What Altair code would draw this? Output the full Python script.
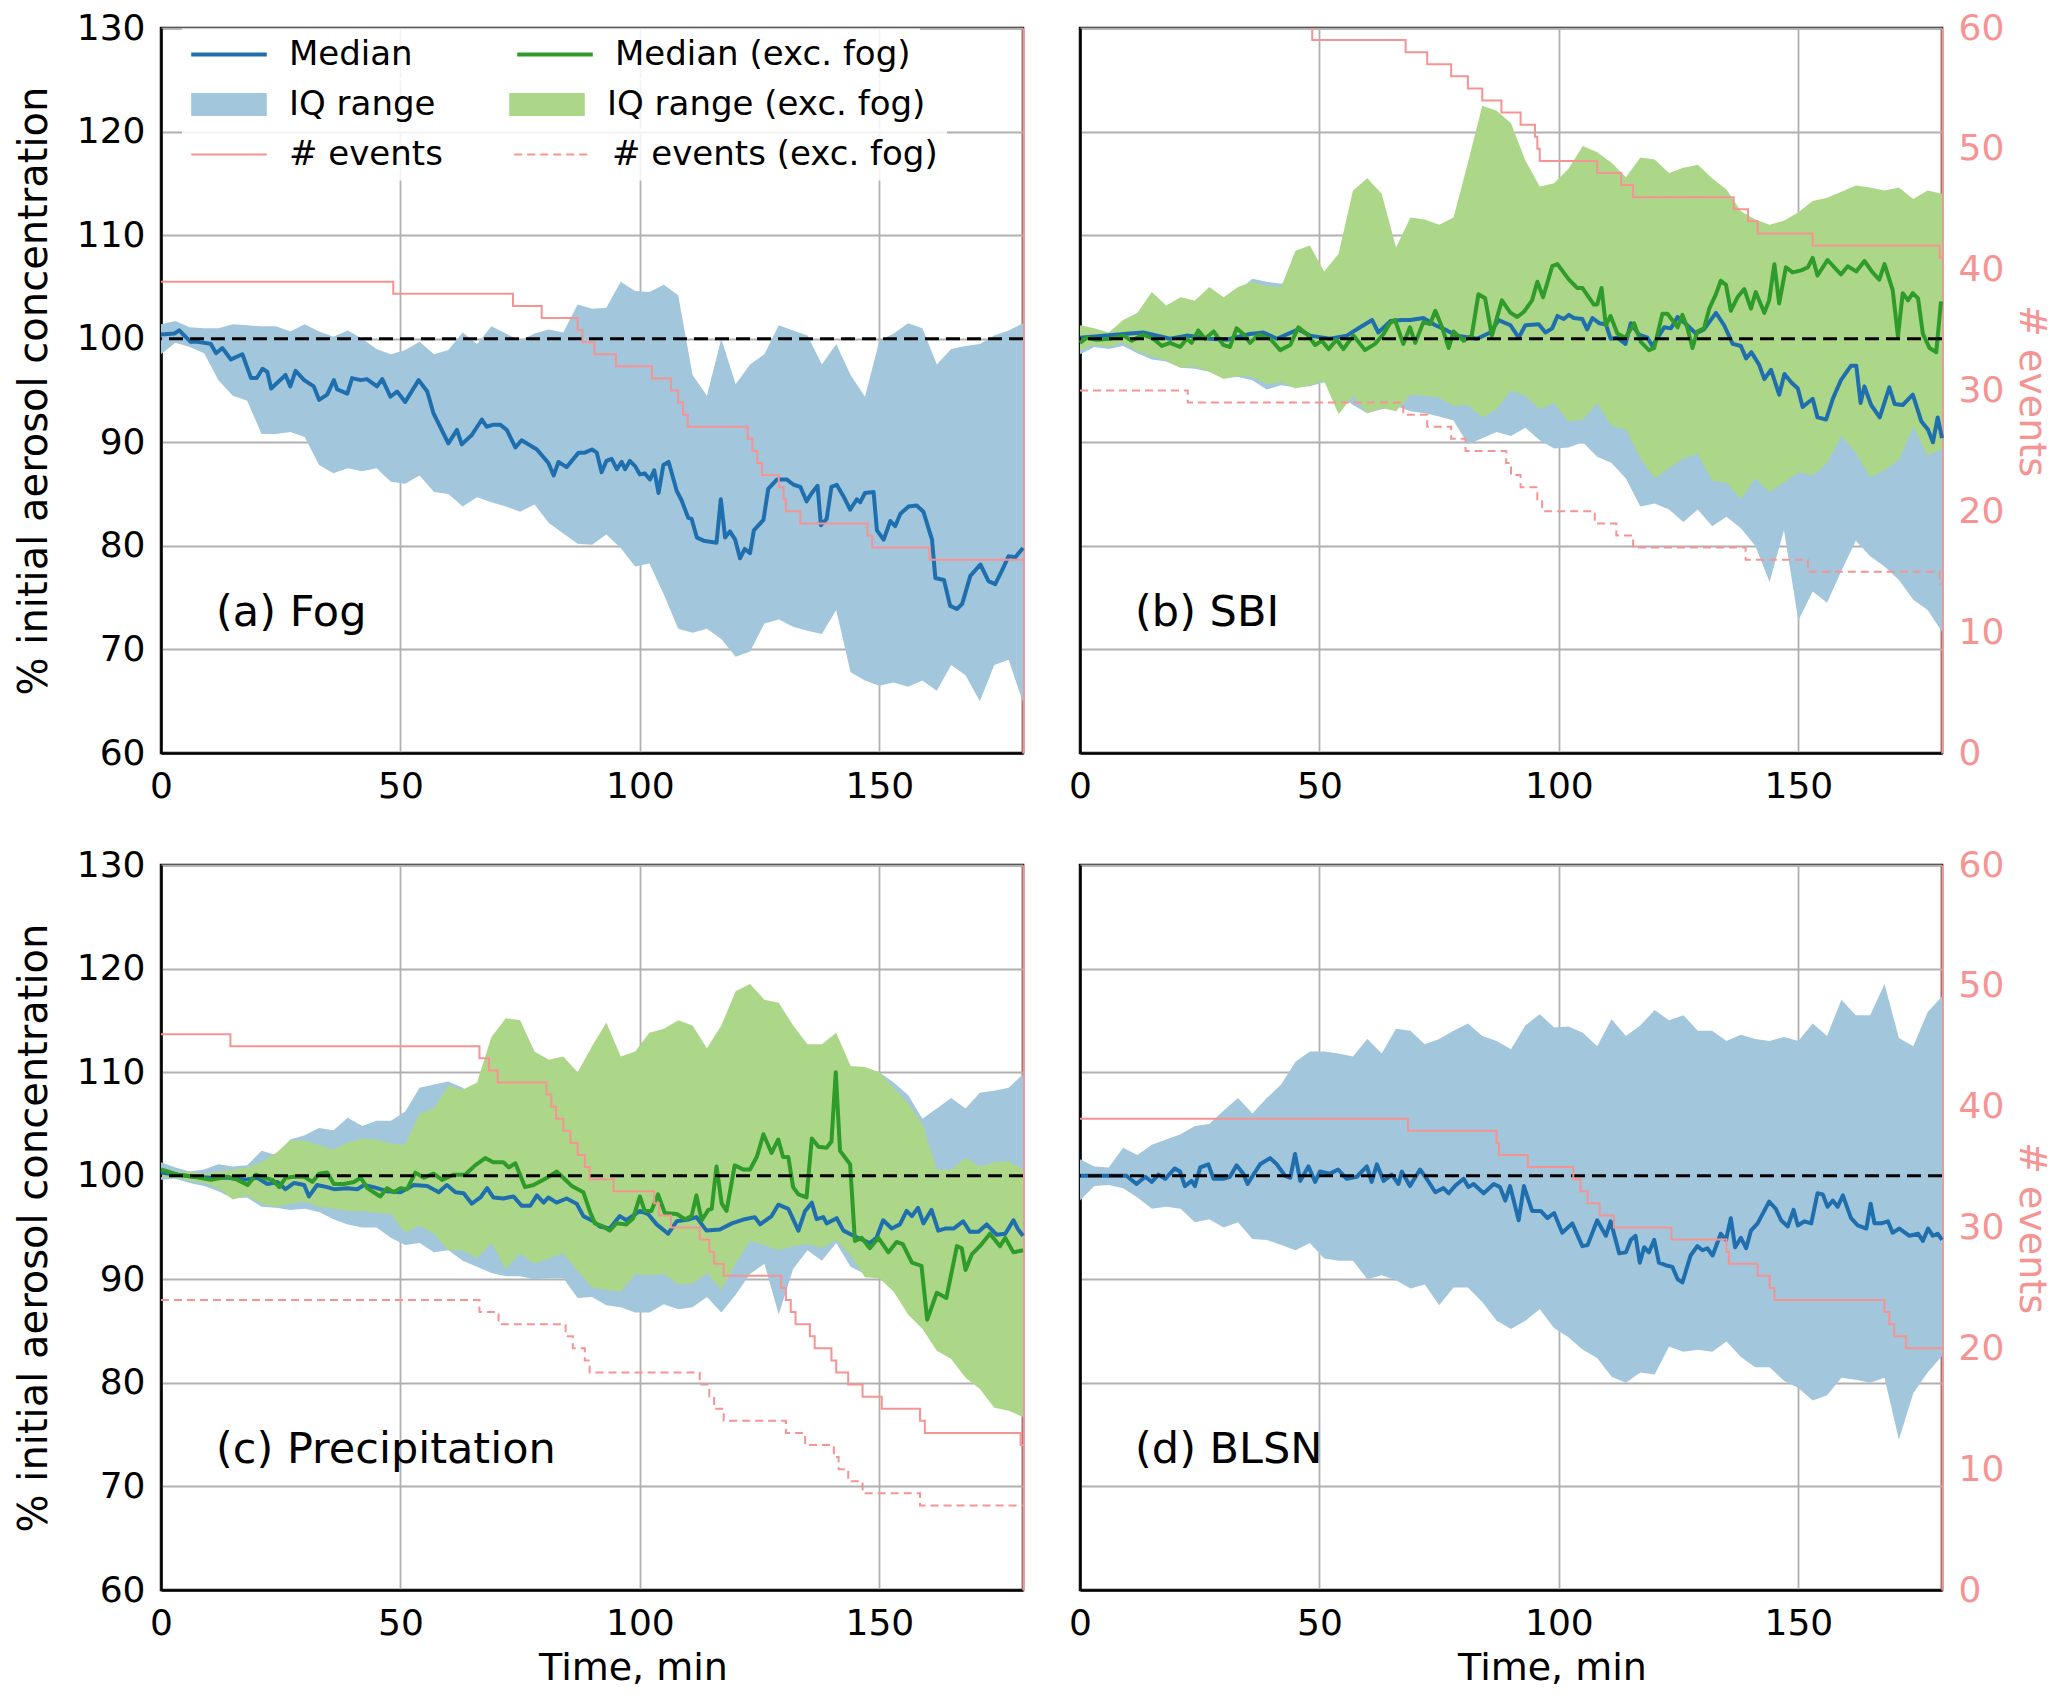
import altair as alt
import pandas as pd

FONT = "DejaVu Sans"
BLUE = "#1f6fae"
GREEN = "#2e9b2b"
BLUE_FILL = "#a2c6dc"
GREEN_FILL = "#add788"
PINK = "#f59493"
GRID = "#b0b0b0"

# time grid (min) on which the IQ-range bands were read
T3 = list(range(0, 181, 3))

# ---------------- (a) Fog ----------------
A_MED = [(0, 100.4), (2.8, 100.5), (3.8, 100.8), (6.2, 99.7), (7.6, 99.7), (10.4, 99.5), (11.5, 98.6),
         (12.8, 99.1), (14.6, 98.0), (17, 98.5), (18.8, 96.2), (20, 96.2), (21.2, 97.1), (22.2, 96.8),
         (23, 95.2), (26, 96.5), (27, 95.4), (28.1, 96.9), (29.9, 96.0), (31.9, 95.4), (33, 94.1),
         (34.7, 94.6), (36.1, 96.0), (36.8, 95.1), (38.9, 94.7), (39.9, 96.2), (41.7, 96.0), (43, 96.1),
         (45.1, 95.4), (46.2, 96.1), (47.9, 94.4), (49.3, 94.9), (51, 93.9), (53.8, 96.0), (55.6, 94.9),
         (56.9, 92.8), (58.3, 91.5), (60, 89.9), (61.8, 91.2), (62.8, 89.8), (64.9, 90.7), (67, 92.2),
         (68, 91.5), (69.4, 91.7), (70.8, 91.7), (72.2, 91.2), (74, 89.5), (75.3, 90.2), (78.5, 89.3),
         (80.9, 88.0), (82, 86.8), (83, 88.1), (84.7, 87.6), (87.2, 89.0), (88.5, 89.0), (90, 89.3),
         (91, 89.0), (92, 87.1), (93, 88.2), (94.1, 88.4), (95.2, 87.4), (96.2, 88.1), (96.9, 87.4),
         (97.9, 88.2), (99, 87.7), (100, 86.9), (101, 87.0), (102.1, 86.4), (103, 87.3), (103.9, 85.1),
         (104.9, 87.8), (106, 88.1), (107.7, 85.3), (108.7, 84.4), (110.1, 82.7), (110.8, 82.6),
         (111.9, 80.8), (113.3, 80.5), (116, 80.3), (116.9, 84.5), (117.8, 80.8), (118.8, 81.4),
         (119.9, 80.6), (120.9, 78.8), (121.9, 79.7), (123, 79.3), (123.8, 81.5), (125.8, 82.5),
         (126.8, 85.5), (128.6, 86.4), (130.7, 86.4), (132.1, 85.9), (133.5, 85.7), (134.8, 84.3),
         (135.9, 85.1), (137.1, 85.8), (137.8, 82.0), (139, 82.6), (140, 85.7), (141.1, 85.9),
         (142.5, 84.8), (143.9, 83.5), (145.3, 84.5), (146, 84.2), (147, 85.1), (148.8, 85.2),
         (149.5, 81.5), (150.9, 80.6), (152.3, 82.4), (153.3, 81.9), (154.4, 83.1), (156.1, 83.8),
         (157.8, 83.9), (159.2, 83.3), (161, 80.6), (161.7, 76.9), (163.5, 76.7), (164.8, 74.2),
         (166.2, 73.9), (167.3, 74.4), (169, 77.1), (171.1, 78.2), (172.8, 76.6), (174.2, 76.3),
         (175.6, 77.6), (177, 79.0), (178.4, 78.9), (180, 79.8)]
A_HI = [101.4, 101.7, 101.1, 101.0, 101.0, 101.4, 101.3, 101.2, 101.2, 100.7,
        101.4, 100.7, 100.2, 100.8, 100.0, 99.0, 98.5, 98.9, 99.7, 98.5,
        98.9, 100.6, 99.5, 101.2, 100.5, 99.8, 100.5, 100.9, 100.6, 103.3,
        102.9, 103.0, 105.5, 104.6, 104.5, 105.2, 104.2, 96.5, 94.5, 100.0,
        95.6, 97.5, 98.5, 101.3, 100.8, 100.3, 97.5, 99.5, 96.5, 94.4,
        99.8, 100.5, 101.5, 101.0, 97.5, 99.0, 99.3, 99.5, 100.3, 100.8,
        101.5]
A_LO = [98.5, 99.6, 99.2, 98.6, 96.0, 94.5, 94.0, 90.8, 90.8, 91.0,
        90.5, 87.8, 87.0, 87.5, 87.2, 87.5, 86.2, 86.0, 86.8, 85.2,
        85.0, 83.8, 84.7, 84.2, 83.8, 83.3, 84.0, 82.2, 81.2, 80.2,
        80.1, 81.1, 79.8, 78.0, 78.3, 75.3, 72.0, 71.6, 72.0, 71.0,
        69.3, 69.8, 72.5, 72.9, 72.2, 71.8, 71.5, 73.8, 67.8, 67.0,
        66.5, 66.8, 66.4, 67.0, 66.0, 68.5, 67.5, 65.0, 68.5, 69.0,
        64.9]
A_EV = [(0, 39), (48.5, 38), (73.5, 37), (79.5, 36), (87, 35), (88, 34), (90.5, 33), (95, 32),
        (102.5, 31), (106.5, 30), (108, 29), (109, 28), (110, 27), (122.5, 26), (123.5, 25),
        (124.5, 24), (125.5, 23), (129, 22), (130, 21), (130.5, 20), (133.5, 19), (147.5, 18),
        (148.5, 17), (160.5, 16), (180, 16)]

# ---------------- (b) SBI ----------------
B_MED = [(0, 100.1), (10.4, 100.5), (13.2, 100.6), (18.8, 100.0), (22.3, 100.3), (27.2, 100.0),
         (30.6, 99.9), (35.5, 100.45), (38.3, 100.6), (41.1, 100.0), (45.6, 100.9), (48, 100.3),
         (52.2, 100.0), (55.7, 100.3), (58.5, 101.1), (61, 101.8), (62.3, 100.6), (64.8, 101.7),
         (67.2, 101.8), (69, 101.8), (71.7, 102.0), (74.2, 101.3), (76.6, 100.8), (78.7, 100.3),
         (82.9, 100.0), (85.7, 100.6), (87.4, 101.8), (89.9, 101.3), (91.6, 100.1), (93, 101.3),
         (95.8, 101.4), (97.2, 100.6), (98.6, 101.0), (99.7, 102.2), (101, 101.9), (102.1, 102.3),
         (103.1, 102.0), (104.9, 101.9), (105.9, 100.9), (107, 102.0), (108.4, 101.5), (109.8, 101.4),
         (110.8, 100.0), (112.2, 100.1), (113.9, 99.5), (115, 101.5), (116.7, 100.4), (118.5, 100.1),
         (119.5, 99.3), (122, 101.1), (123.4, 101.0), (124.8, 102.1), (126.8, 101.3), (128.6, 100.5),
         (130.3, 100.9), (132.8, 102.5), (134.5, 101.3), (136.3, 99.5), (138, 99.3), (139.1, 98.1),
         (140.2, 98.7), (141.8, 97.5), (142.9, 96.1), (144.3, 97.0), (146, 94.6), (147.1, 96.6),
         (148.5, 95.8), (149.9, 95.2), (150.9, 93.4), (153, 94.2), (154, 92.4), (155.8, 92.2),
         (157.2, 94.2), (158.9, 96.0), (161, 97.4), (162.1, 97.4), (163, 93.8), (163.8, 95.4),
         (165.2, 93.6), (167, 92.4), (169, 95.3), (170.1, 93.7), (171.8, 93.6), (173.9, 94.6),
         (175.7, 92.0), (177.1, 91.2), (178.1, 90.0), (179.1, 92.4), (180, 90.4)]
B_MED_FOG = [(0, 99.6), (1.4, 100.1), (3.5, 99.9), (6.3, 100.0), (9.1, 100.3), (10.8, 99.8), (13.2, 100.4),
             (15.3, 100.0), (17.1, 99.3), (18.8, 99.6), (20.9, 99.2), (22.3, 100.0), (23.3, 99.6),
             (24.7, 100.8), (26.1, 100.0), (27.9, 100.7), (29.9, 99.4), (31.3, 99.2), (32.7, 101.0),
             (34.1, 100.45), (35.5, 99.6), (37.3, 100.4), (39.7, 100.0), (41.8, 98.9), (43.9, 99.4),
             (45.6, 101.1), (47.4, 100.45), (49.1, 99.4), (50.5, 99.8), (51.9, 99.0), (53.6, 99.9),
             (55, 99.0), (57.1, 100.3), (59.5, 98.9), (61.6, 99.5), (63.4, 100.45), (64.7, 101.5),
             (65.8, 101.8), (67.5, 99.5), (68.9, 101.1), (70, 99.6), (71.7, 101.6), (73.1, 101.4),
             (74.2, 102.7), (75.6, 101.1), (77, 99.1), (78, 100.7), (80.1, 99.8), (81.8, 100.3),
             (83.2, 104.3), (84.6, 103.9), (86, 100.3), (88.1, 103.7), (89.9, 102.5), (91.3, 102.1),
             (92.7, 102.6), (94.4, 103.7), (95.5, 105.5), (96.7, 104.0), (98.6, 107.0), (99.7, 107.2),
             (102.1, 105.7), (103.8, 104.9), (104.9, 104.9), (107.3, 103.3), (108, 103.3), (108.9, 104.9),
             (109.8, 101.3), (110.8, 102.2), (112.2, 100.5), (113.9, 100.1), (115.7, 101.5), (117.1, 99.7),
             (118.8, 98.9), (119.9, 99.1), (121.6, 102.4), (122.7, 102.4), (124.8, 101.1), (125.8, 102.3),
             (126.8, 101.1), (127.9, 99.1), (128.9, 100.7), (130.3, 101.0), (131.4, 102.9), (132.8, 104.3),
             (133.8, 105.6), (134.9, 105.2), (135.9, 102.7), (137.3, 104.0), (138.7, 104.8), (140.1, 102.9),
             (141.1, 104.5), (142.9, 102.5), (143.9, 103.7), (145, 107.2), (146, 103.4), (147.4, 106.9),
             (148.8, 106.4), (150.6, 106.6), (152, 106.9), (153, 107.8), (154, 106.1), (156.1, 107.6),
             (157.5, 106.9), (158.9, 106.2), (160.3, 107.0), (162.1, 106.5), (163.8, 107.5), (165.5, 106.4),
             (166.9, 105.7), (168, 107.2), (169.7, 104.7), (170.8, 100.2), (171.8, 104.4), (172.9, 103.7),
             (173.9, 104.4), (175, 103.9), (176, 100.5), (177.4, 99.1), (178.8, 98.7), (179.8, 103.6)]
B_HI = [101.0, 100.8, 100.5, 101.5, 102.0, 103.0, 103.0, 103.5, 103.5, 104.4,
        103.8, 104.6, 105.8, 105.5, 105.3, 106.0, 107.0, 105.5, 107.0, 112.0,
        113.0, 112.0, 107.5, 110.0, 110.0, 109.5, 110.0, 114.0, 118.0, 118.0,
        117.0, 115.0, 113.0, 113.0, 114.0, 116.0, 116.0, 115.0, 114.0, 115.0,
        115.0, 114.0, 114.5, 114.5, 113.5, 112.5, 110.5, 110.0, 109.5, 110.0,
        110.5, 111.5, 112.0, 112.5, 113.0, 113.0, 112.5, 113.0, 112.0, 112.5,
        112.5]
B_LO = [98.5, 99.2, 99.0, 99.3, 98.6, 98.0, 97.8, 97.2, 97.1, 96.8,
        96.2, 96.3, 96.0, 95.1, 95.5, 95.3, 95.4, 95.8, 94.6, 93.6,
        92.8, 93.2, 93.5, 93.0, 92.8, 92.5, 92.1, 89.8, 90.4, 91.0,
        90.6, 91.4, 90.2, 89.4, 89.5, 90.0, 88.6, 88.0, 86.5, 83.8,
        84.1, 83.5, 82.3, 83.5, 81.9, 82.8, 81.7, 80.0, 76.5, 81.5,
        72.8, 75.6, 74.5, 77.6, 80.5, 79.0, 78.0, 76.7, 74.8, 73.8,
        71.7]
B_HI_FOG = [101.3, 101.0, 100.6, 101.8, 102.5, 104.5, 103.2, 104.0, 103.7, 105.0,
            104.0, 105.0, 105.5, 105.1, 105.0, 108.5, 109.0, 106.5, 108.2, 114.3,
            115.5, 114.0, 108.8, 111.7, 111.5, 111.0, 111.7, 117.0, 122.5, 122.0,
            120.8, 117.2, 114.7, 115.0, 116.4, 118.6, 118.0, 117.0, 115.6, 117.5,
            117.3, 116.0, 116.5, 116.8, 115.5, 114.4, 112.3, 111.5, 111.0, 111.4,
            112.2, 113.3, 113.6, 114.2, 114.8, 114.6, 114.3, 114.6, 113.5, 114.3,
            114.0]
B_LO_FOG = [98.9, 99.4, 99.2, 99.6, 98.8, 98.3, 97.9, 97.2, 97.3, 96.8,
            96.1, 96.4, 96.3, 95.6, 95.8, 95.2, 95.5, 95.9, 92.7, 94.5,
            92.8, 93.3, 93.0, 94.6, 94.5, 94.3, 93.5, 93.6, 92.4, 93.2,
            95.0, 94.5, 93.2, 93.8, 92.0, 92.2, 93.8, 91.6, 91.2, 88.5,
            86.5, 87.5, 88.4, 88.9, 86.3, 86.1, 84.5, 86.5, 85.2, 86.1,
            87.1, 86.8, 88.0, 90.6, 89.0, 86.6, 87.3, 88.3, 91.5, 88.7,
            89.4]
B_EV = [(0, 63), (48.5, 59), (68, 58), (72.5, 57), (77.5, 56), (81, 55), (84, 54), (88, 53), (92, 52),
        (95, 51), (95.5, 50), (96, 49), (108, 48), (113, 47), (115.5, 46), (136.5, 45), (139.5, 44),
        (141.5, 43), (153, 42), (179.5, 41), (180, 41)]
B_EV_FOG = [(0, 30), (22.5, 29), (67.5, 28), (72.5, 27), (77.5, 26), (80.5, 25), (89, 24), (90, 23),
            (92, 22), (95.5, 21), (96.5, 20), (107.5, 19), (112, 18), (115.5, 17), (139, 16), (152, 15),
            (179.5, 14), (180, 14)]

# ---------------- (c) Precipitation ----------------
C_MED = [(0, 100.3), (3.5, 100.1), (6.9, 99.9), (10.4, 99.8), (13.9, 99.8), (17.4, 99.6), (20.1, 99.8),
         (22.2, 99.2), (24.3, 99.4), (26, 98.7), (27.8, 99.3), (29.9, 99.1), (30.9, 98.0), (32.6, 99.1),
         (34.7, 98.9), (36.1, 98.7), (38.9, 98.8), (41, 98.7), (42.4, 99.1), (44.4, 98.9), (47.2, 98.5),
         (50, 98.4), (52.8, 99.1), (55.6, 99.0), (58, 98.4), (59.7, 99.1), (61.5, 98.4), (63.2, 98.3),
         (64.9, 97.3), (66.7, 97.9), (68.1, 98.8), (69.4, 97.9), (71.5, 97.8), (73.6, 98.0), (75.3, 97.1),
         (77.1, 97.1), (78.5, 98.1), (79.9, 97.4), (80.9, 97.9), (82.6, 97.4), (84.7, 97.8), (86.8, 97.3),
         (88.2, 96.1), (90.3, 95.6), (91.6, 95.1), (93.7, 94.9), (95.8, 96.1), (97.2, 95.7), (100, 96.6),
         (101.7, 96.3), (103.5, 95.3), (105.9, 94.4), (107.7, 95.6), (110.4, 95.8), (111.8, 96.0),
         (113.9, 94.7), (116.7, 94.8), (119.2, 95.4), (121.9, 95.8), (124, 96.0), (125.1, 95.3),
         (127.5, 96.1), (128.9, 97.2), (131, 96.8), (133.1, 94.7), (134.5, 96.6), (135.9, 97.4),
         (136.9, 95.8), (138.3, 96.0), (139, 95.4), (141.1, 95.9), (142.5, 94.7), (144.6, 94.2),
         (146, 93.9), (148, 93.5), (149.4, 94.0), (150.8, 95.7), (152.6, 94.9), (154.3, 95.3),
         (155.7, 96.6), (156.8, 96.1), (158.1, 96.9), (159.2, 95.4), (160.9, 96.7), (162.3, 94.7),
         (163.7, 94.9), (165.5, 94.9), (167.5, 95.6), (168.9, 94.6), (170.7, 94.6), (172.4, 95.3),
         (174.5, 94.3), (176.3, 94.4), (178, 95.7), (179, 94.8), (180, 94.2)]
C_MED_FOG = [(0, 100.6), (3.5, 100.1), (6.9, 99.9), (10.4, 99.6), (13.9, 99.9), (16, 99.6), (18.1, 99.1),
             (19.8, 100.1), (21.5, 99.8), (23.3, 99.6), (24.7, 98.9), (26, 99.8), (27.8, 99.9), (29.9, 99.9),
             (31.6, 99.4), (33, 100.2), (34.7, 100.3), (36.1, 99.2), (38.2, 99.2), (40.3, 99.4), (41.7, 99.8),
             (43.1, 98.8), (44.4, 98.4), (45.8, 98.0), (47.2, 98.8), (48.6, 98.4), (50, 98.8), (51.4, 98.7),
             (53.1, 100.3), (54.9, 99.8), (56.9, 100.2), (58.7, 99.6), (61.1, 100.1), (63.5, 100.1),
             (65.6, 101.0), (67.7, 101.7), (69.4, 101.3), (71.5, 101.3), (72.6, 100.8), (74, 101.2),
             (76, 98.9), (77.8, 99.1), (80.6, 99.8), (82.6, 100.4), (84, 99.8), (85.8, 99.0), (88.2, 98.4),
             (89.6, 96.5), (90.6, 95.4), (92.3, 95.1), (93.7, 94.7), (95.1, 95.4), (97.2, 95.3), (98.6, 95.9),
             (100, 98.0), (101, 96.6), (102.4, 96.6), (103.8, 98.2), (105.2, 96.4), (107.7, 96.3),
             (109.4, 95.8), (110.8, 96.1), (111.8, 98.1), (112.9, 95.7), (114.3, 96.7), (115, 96.8),
             (116, 100.9), (117.1, 97.3), (118.1, 96.6), (119.8, 101.0), (121.6, 100.6), (123, 100.6),
             (124.4, 101.8), (125.8, 104.0), (127.5, 102.2), (128.9, 103.5), (129.9, 101.8), (131, 101.8),
             (132, 98.9), (133.1, 98.2), (134.8, 97.9), (135.9, 103.6), (137.3, 102.8), (139, 102.7),
             (140, 103.3), (140.9, 110.0), (141.8, 102.4), (143.9, 101.1), (144.9, 93.7), (146.3, 94.0),
             (148, 93.0), (149.8, 94.0), (151.9, 92.6), (153.6, 93.6), (154.9, 93.4), (156.8, 91.6),
             (158.8, 91.3), (160, 86.1), (162, 88.7), (164, 88.2), (166.2, 93.2), (167.2, 93.0), (168, 90.9),
             (169.3, 92.4), (171, 93.2), (173.1, 94.4), (175.2, 93.2), (176.3, 94.0), (178, 92.6), (180, 92.8)]
C_HI = [101.3, 100.8, 100.4, 100.6, 101.1, 100.9, 101.0, 102.4, 102.0, 103.5,
        103.9, 104.6, 104.4, 105.6, 104.8, 105.3, 105.3, 106.2, 108.5, 108.8,
        109.1, 108.5, 107.5, 110.0, 111.0, 111.0, 109.5, 109.0, 109.5, 108.0,
        109.5, 111.0, 109.0, 109.5, 110.5, 111.0, 111.5, 111.0, 110.0, 111.0,
        113.0, 113.0, 112.5, 112.0, 111.0, 110.0, 110.0, 110.5, 109.0, 109.5,
        110.0, 109.0, 107.8, 105.5, 106.5, 107.5, 106.5, 108.0, 108.2, 108.5,
        109.8]
C_LO = [99.6, 99.7, 99.3, 99.0, 98.5, 97.8, 97.9, 97.0, 96.9, 96.7,
        96.8, 96.5, 95.8, 95.3, 95.0, 95.0, 94.0, 93.3, 93.5, 92.6,
        92.8, 91.8, 91.2, 90.6, 90.3, 90.3, 90.0, 90.1, 90.1, 88.2,
        88.3, 87.5, 87.3, 86.8, 86.8, 87.6, 87.1, 87.3, 88.3, 86.8,
        88.5, 90.5, 91.5, 86.6, 91.0, 92.8, 91.8, 93.5, 91.2, 90.5,
        90.5, 90.0, 89.5, 89.0, 89.0, 89.5, 89.0, 89.0, 88.5, 88.5,
        88.0]
C_HI_FOG = [100.8, 100.4, 100.4, 100.2, 100.4, 100.6, 100.8, 101.3, 102.2, 103.4,
            103.4, 103.0, 102.5, 103.2, 103.6, 103.5, 103.1, 103.0, 106.0, 106.5,
            108.7, 108.3, 109.0, 113.4, 115.2, 115.0, 112.0, 111.2, 111.5, 110.0,
            112.5, 114.8, 111.5, 112.0, 113.8, 114.2, 115.0, 114.5, 112.3, 114.5,
            117.8, 118.5, 117.0, 116.7, 114.5, 112.7, 112.7, 113.8, 110.6, 110.5,
            110.0, 108.5, 107.0, 105.0, 100.6, 100.6, 101.7, 100.9, 101.3, 101.4,
            100.6]
C_LO_FOG = [99.8, 99.8, 99.5, 99.3, 98.8, 97.7, 98.1, 97.3, 97.0, 97.3,
            97.5, 97.0, 96.8, 96.6, 96.6, 96.4, 96.3, 94.5, 95.2, 94.4,
            92.8, 92.8, 92.0, 93.5, 91.0, 92.5, 91.5, 92.0, 92.5, 90.8,
            89.2, 89.0, 88.8, 90.5, 90.4, 90.5, 89.5, 89.6, 90.6, 89.0,
            91.5, 93.7, 93.3, 92.8, 93.2, 93.4, 93.0, 93.8, 92.3, 90.2,
            90.1, 88.8, 86.6, 85.2, 83.1, 82.3, 80.5, 79.4, 77.6, 77.3,
            76.7]
C_EV = [(0, 46), (14.5, 45), (66.5, 44), (68.5, 43), (70.3, 42), (80.5, 41), (81.5, 40), (82.5, 39),
        (84, 38), (85.5, 37), (87, 36), (88.5, 35), (89.5, 34), (94.5, 33), (103, 32), (104, 31),
        (106.5, 30), (112.5, 29), (114.5, 28), (115.5, 27), (117.5, 26), (129.5, 25), (130.5, 24),
        (131.5, 23), (132.5, 22), (135.5, 21), (136.5, 20), (140, 19), (141, 18), (143.5, 17),
        (146.5, 16), (150.5, 15), (158.5, 14), (159.5, 13), (179.5, 12), (180, 12)]
C_EV_FOG = [(0, 24), (66.5, 23), (70.5, 22), (84.5, 21), (86, 20), (88.5, 19), (89.5, 18), (112.5, 17),
            (114.5, 16), (115.5, 15), (117.5, 14), (130.5, 13), (134.5, 12), (140.5, 11), (141.5, 10),
            (143.5, 9), (146.5, 8), (158.5, 7), (180, 7)]

# ---------------- (d) BLSN ----------------
D_MED = [(0, 100.0), (6.3, 100.0), (9.7, 100.0), (11.8, 99.2), (13.6, 99.9), (15, 99.4), (16.4, 100.1),
         (17.8, 99.7), (19.8, 100.7), (20.9, 100.4), (21.9, 99.0), (23.3, 99.5), (24, 99.0), (25.1, 100.8),
         (26.8, 101.1), (27.9, 99.7), (29.9, 99.7), (31.3, 99.9), (32.7, 101.0), (34.1, 100.2), (35, 99.2),
         (36.2, 100.1), (37.6, 101.1), (39.7, 101.7), (41.1, 101.1), (42.8, 100.0), (43.9, 99.8),
         (44.9, 102.1), (46, 99.5), (47.7, 100.9), (49.1, 99.4), (50.1, 100.4), (52.2, 100.2), (53.9, 100.6),
         (55.7, 99.7), (57.8, 99.9), (59.9, 100.9), (60.9, 99.4), (62, 101.1), (63.4, 99.5), (65.1, 100.1),
         (66.5, 99.2), (67.2, 100.4), (68.9, 99.0), (71, 100.6), (72.4, 99.7), (74.2, 98.4), (75.9, 98.8),
         (77, 98.3), (78.3, 99.0), (80.1, 99.7), (81.1, 98.9), (82.2, 99.2), (84.3, 98.3), (86.4, 99.2),
         (87.7, 98.9), (88.8, 97.6), (89.8, 99.0), (91.6, 95.7), (92.7, 99.0), (94.4, 96.6), (96.2, 96.6),
         (97.6, 95.9), (99, 96.4), (100.7, 94.5), (102.8, 95.4), (104.9, 93.2), (106, 93.3), (108, 95.7),
         (109.8, 94.2), (110.8, 95.6), (112.6, 92.5), (114, 92.6), (115, 93.8), (116, 94.2), (116.9, 91.6),
         (117.8, 93.1), (118.8, 92.6), (119.9, 93.8), (120.9, 91.6), (122.7, 91.3), (123.7, 91.2),
         (124.8, 90.0), (125.8, 89.7), (127.5, 92.3), (128.9, 93.2), (130, 92.8), (131, 93.0), (132.1, 92.3),
         (133.8, 94.4), (134.9, 93.8), (135.9, 95.9), (136.8, 93.1), (138, 94.0), (139.1, 93.0),
         (140.1, 94.7), (141.5, 95.4), (143.9, 97.5), (145.3, 96.8), (146.4, 95.7), (147.8, 95.1),
         (149, 96.7), (149.9, 95.2), (151.3, 95.6), (152.7, 95.4), (154, 98.3), (155.1, 98.2), (156.1, 97.0),
         (157.2, 97.6), (158.2, 97.0), (159.3, 98.1), (161, 95.9), (162.4, 95.2), (164.2, 94.9),
         (165.1, 97.3), (165.9, 95.4), (167.3, 95.4), (168.7, 95.6), (169.7, 94.5), (171.1, 94.9),
         (173.2, 94.2), (175, 94.4), (176, 93.7), (177.1, 94.9), (178.1, 94.2), (179.1, 94.4), (180, 93.8)]
D_HI = [101.6, 100.9, 100.8, 102.7, 102.0, 103.0, 103.5, 104.0, 104.8, 105.0,
        106.3, 107.5, 106.0, 107.5, 108.8, 111.0, 112.0, 112.0, 111.8, 111.5,
        113.2, 111.8, 114.2, 114.0, 112.7, 113.2, 114.0, 114.7, 113.5, 113.0,
        112.2, 114.5, 115.6, 114.3, 114.4, 113.8, 112.5, 115.1, 113.5, 114.5,
        116.0, 115.0, 115.5, 114.0, 114.0, 113.0, 113.6, 113.2, 113.0, 113.4,
        113.0, 114.7, 113.5, 117.0, 115.5, 115.5, 118.5, 113.3, 112.5, 115.8,
        117.3]
D_LO = [97.6, 99.0, 99.1, 98.8, 97.9, 96.8, 97.0, 96.8, 95.5, 95.8,
        95.0, 95.5, 93.9, 93.8, 93.3, 92.8, 93.5, 92.0, 91.8, 91.8,
        90.0, 90.4, 89.9, 89.1, 89.5, 87.5, 89.2, 89.2, 87.8, 86.0,
        85.2, 86.0, 87.1, 85.3, 84.4, 83.2, 82.4, 80.6, 80.0, 81.0,
        80.8, 83.5, 83.0, 83.2, 83.0, 84.0, 82.5, 81.5, 81.5, 80.2,
        79.5, 78.3, 78.8, 80.5, 80.3, 80.0, 80.5, 74.5, 79.0, 81.0,
        82.6]
D_EV = [(0, 39), (68.5, 38), (87, 37), (87.5, 36), (93.5, 35), (103, 34), (104.5, 33), (106, 32),
        (108.5, 31), (111.5, 30), (123.5, 29), (135, 28), (135.5, 27), (141.5, 26), (144, 25), (145, 24),
        (168, 23), (169, 22), (170, 21), (172.5, 20), (180, 20)]

MEDIANS = ["Median", "Median (exc. fog)"]
BANDS = ["IQ range", "IQ range (exc. fog)"]
EVENTS = ["# events", "# events (exc. fog)"]

LABEL_X, LABEL_Y = 11.5, 73.5
W, H = 862, 725

LINE_PATH = "M-2.7,0L2.7,0"
RECT_PATH = "M-2.7,-0.82L2.7,-0.82L2.7,0.82L-2.7,0.82Z"


def legend(top, col_pad, **kw):
    return alt.Legend(
        orient="none", legendX=21, legendY=top, columns=2, title=None,
        padding=9, fillColor="rgba(255,255,255,0.85)", symbolSize=784, symbolOffset=21,
        labelOffset=43, columnPadding=col_pad, labelFont=FONT, labelLimit=600,
        labelFontSize=34, labelColor="black", **kw,
    )


MED_LEGEND = legend(0.5, 96, symbolType=LINE_PATH, symbolStrokeWidth=4)
BAND_LEGEND = legend(50.5, 73, symbolType=RECT_PATH, symbolStrokeWidth=0)
EV_LEGEND = legend(100.5, 67, symbolType=LINE_PATH, symbolStrokeWidth=2, symbolStrokeColor=PINK)


def panel(label, med, lo, hi, ev, med_fog=None, lo_fog=None, hi_fog=None, ev_fog=None,
          left_labels=True, x_title=False):
    x = alt.X(
        "x:Q",
        scale=alt.Scale(domain=[0, 180], nice=False, zero=False),
        axis=alt.Axis(values=[0, 50, 100, 150], grid=True, ticks=False, labelFlush=False,
                      labelPadding=16, titlePadding=8, domainColor="black", domainWidth=2.5,
                      titleX=W / 2 + 41, titleAlign="center",
                      title="Time, min" if x_title else None),
    )
    ysc = alt.Scale(domain=[60, 130], nice=False, zero=False)
    yax = alt.Axis(values=list(range(60, 131, 10)), grid=True, ticks=False, labels=left_labels,
                   labelFlush=False, labelPadding=16, titlePadding=22, titleFontSize=40,
                   domainColor="black", domainWidth=2.5,
                   title="% initial aerosol concentration" if left_labels else None)
    esc = alt.Scale(domain=[0, 60], nice=False, zero=False)
    eax = alt.Axis(values=list(range(0, 61, 10)), grid=False, ticks=False, orient="right",
                   labels=not left_labels, labelFlush=False, labelColor=PINK, labelPadding=16,
                   domainColor=PINK, domainWidth=2.5, titleColor=PINK, titlePadding=8,
                   title=None if left_labels else "# events")

    fill = alt.Fill("series:N", scale=alt.Scale(domain=BANDS, range=[BLUE_FILL, GREEN_FILL]),
                    legend=BAND_LEGEND)
    color = alt.Color("series:N", scale=alt.Scale(domain=MEDIANS, range=[BLUE, GREEN]),
                      legend=MED_LEGEND)
    dash = alt.StrokeDash("series:N", scale=alt.Scale(domain=EVENTS, range=[[1, 0], [8, 5]]),
                          legend=EV_LEGEND)

    def band(lo_v, hi_v, name):
        df = pd.DataFrame({"x": T3, "lo": lo_v, "hi": hi_v, "series": name})
        return alt.Chart(df).mark_area(opacity=1).encode(
            x=x, y=alt.Y("lo:Q", scale=ysc, axis=yax), y2="hi:Q", fill=fill)

    def line(pts, name):
        df = pd.DataFrame(pts, columns=["x", "v"]).assign(series=name)
        return alt.Chart(df).mark_line(strokeWidth=4, strokeJoin="round").encode(
            x=x, y=alt.Y("v:Q", scale=ysc, axis=yax), color=color)

    def events(pts, name):
        df = pd.DataFrame(pts, columns=["x", "n"]).assign(series=name)
        return alt.Chart(df).mark_line(interpolate="step-after", strokeWidth=2, color=PINK,
                                       clip=True).encode(
            x=x, y=alt.Y("n:Q", scale=esc, axis=eax), strokeDash=dash)

    left = [band(lo, hi, BANDS[0])]
    if lo_fog is not None:
        left.append(band(lo_fog, hi_fog, BANDS[1]))
    left.append(line(med, MEDIANS[0]))
    if med_fog is not None:
        left.append(line(med_fog, MEDIANS[1]))
    left.append(
        alt.Chart(pd.DataFrame({"v": [100]}))
        .mark_rule(color="black", strokeWidth=3, strokeDash=[14, 7])
        .encode(y=alt.Y("v:Q", scale=ysc, axis=yax))
    )
    left.append(
        alt.Chart(pd.DataFrame({"x": [LABEL_X], "v": [LABEL_Y], "t": [label]}))
        .mark_text(align="left", baseline="middle", font=FONT, fontSize=43, color="black")
        .encode(x=x, y=alt.Y("v:Q", scale=ysc, axis=yax), text="t:N")
    )
    right = [events(ev, EVENTS[0])]
    if ev_fog is not None:
        right.append(events(ev_fog, EVENTS[1]))

    return (
        alt.layer(alt.layer(*left), alt.layer(*right))
        .resolve_scale(y="independent")
        .properties(width=W, height=H)
    )


pa = panel("(a) Fog", A_MED, A_LO, A_HI, A_EV)
pb = panel("(b) SBI", B_MED, B_LO, B_HI, B_EV, B_MED_FOG, B_LO_FOG, B_HI_FOG, B_EV_FOG,
           left_labels=False)
pc = panel("(c) Precipitation", C_MED, C_LO, C_HI, C_EV, C_MED_FOG, C_LO_FOG, C_HI_FOG, C_EV_FOG,
           x_title=True)
pd_ = panel("(d) BLSN", D_MED, D_LO, D_HI, D_EV, left_labels=False, x_title=True)

chart = (
    alt.vconcat(alt.hconcat(pa, pb, spacing=40), alt.hconcat(pc, pd_, spacing=40), spacing=39)
    .properties(padding={"left": 5, "top": 0, "right": 5, "bottom": 2})
    .configure_view(stroke="black", strokeWidth=2.5)
    .configure_axis(labelFont=FONT, titleFont=FONT, labelFontSize=36, titleFontSize=38,
                    titleFontWeight="normal", labelColor="black", titleColor="black",
                    gridColor=GRID, gridWidth=1.8)
)

chart.save("out.html", embed_options={"renderer": "svg", "actions": False})
